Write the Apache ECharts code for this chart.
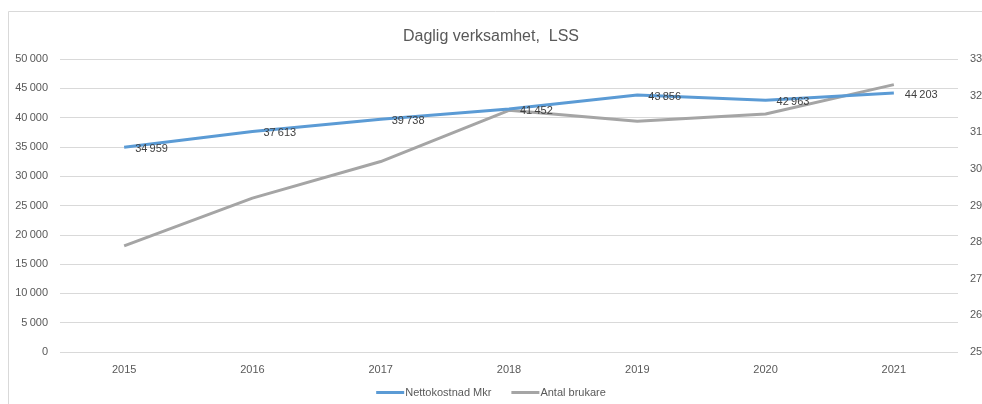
<!DOCTYPE html>
<html>
<head>
<meta charset="utf-8">
<script src="https://cdn.jsdelivr.net/npm/echarts@6/dist/echarts.min.js"></script>
<style>
html,body{margin:0;padding:0;background:#fff;}
#chart{width:982px;height:404px;}
</style>
</head>
<body>
<div id="chart"></div>
<script>
var years = ['2015','2016','2017','2018','2019','2020','2021'];
var nettokostnad = [34959, 37613, 39738, 41452, 43856, 42963, 44203];
var brukare = [27900, 29200, 30200, 31600, 31300, 31500, 32300];
var titleText = 'Daglig verksamhet,  LSS';
var seriesNames = ['Nettokostnad Mkr', 'Antal brukare'];

function fmt(v){
  return String(Math.round(v)).replace(/\B(?=(\d{3})+(?!\d))/g, '\u2009');
}
var fontFam = '"Liberation Sans", "DejaVu Sans", sans-serif';
var chart = echarts.init(document.getElementById('chart'), null, {renderer:'canvas'});
chart.setOption({
  animation:false,
  backgroundColor:'#ffffff',
  textStyle:{fontFamily:fontFam},
  graphic:[{
    type:'rect', z:-1,
    shape:{x:8.5, y:11.5, width:1000, height:500},
    style:{fill:'none', stroke:'#d9d9d9', lineWidth:1}
  }],
  title:{
    text:titleText, left:'center', top:24,
    textStyle:{fontSize:16, fontWeight:'normal', color:'#595959', fontFamily:fontFam}
  },
  legend:{
    bottom:1, left:'center', itemWidth:28, itemHeight:3, itemGap:20,
    icon:'rect',
    textStyle:{fontSize:11, color:'#595959', padding:[0,0,0,-4]},
    data:seriesNames
  },
  grid:{left:60, width:898, top:59, height:293, containLabel:false, outerBoundsMode:'none'},
  xAxis:{
    type:'category', data:years, boundaryGap:true,
    axisLine:{show:false}, axisTick:{show:false},
    axisLabel:{color:'#595959', fontSize:11, margin:12}
  },
  yAxis:[{
    type:'value', min:0, max:50000, interval:5000,
    axisLine:{show:false}, axisTick:{show:false},
    splitLine:{lineStyle:{color:'#d9d9d9', width:1}},
    axisLabel:{color:'#595959', fontSize:11, margin:12, formatter:fmt}
  },{
    type:'value', min:25000, max:33000, interval:1000,
    axisLine:{show:false}, axisTick:{show:false},
    splitLine:{show:false},
    axisLabel:{color:'#595959', fontSize:11, margin:12, formatter:fmt}
  }],
  series:[{
    name:seriesNames[0], type:'line', yAxisIndex:0, data:nettokostnad,
    symbol:'circle', symbolSize:0, showSymbol:true, z:3,
    lineStyle:{color:'#5b9bd5', width:3},
    itemStyle:{color:'#5b9bd5'},
    labelLayout:{hideOverlap:false},
    label:{show:true, position:[11,-4], fontSize:11, color:'#404040',
      formatter:function(p){return fmt(p.value);}}
  },{
    name:seriesNames[1], type:'line', yAxisIndex:1, data:brukare,
    symbol:'none', z:2,
    lineStyle:{color:'#a5a5a5', width:3},
    itemStyle:{color:'#a5a5a5'}
  }]
});
</script>
</body>
</html>
